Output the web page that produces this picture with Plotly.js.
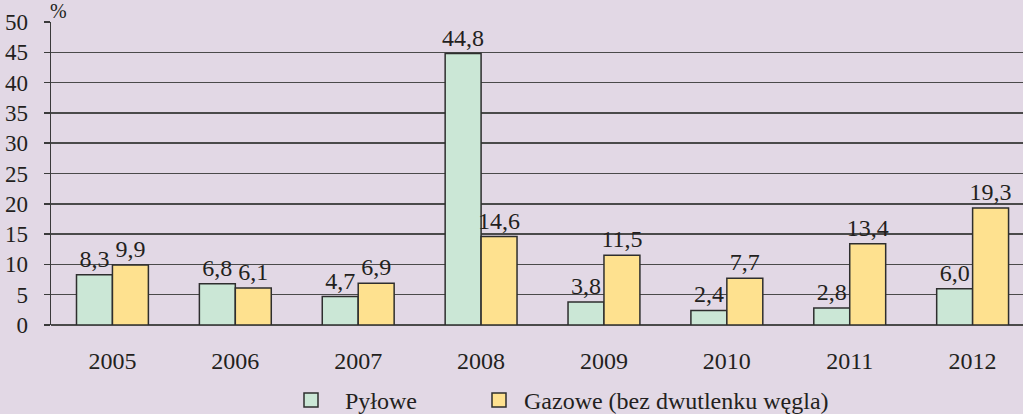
<!DOCTYPE html>
<html><head><meta charset="utf-8">
<script src="https://cdn.plot.ly/plotly-3.0.1.min.js"></script>
<style>html,body{margin:0;padding:0;background:#e2d8e5;}</style>
</head><body>
<div id="chart" style="width:1023px;height:414px;"></div>
<script>
const years = ['2005','2006','2007','2008','2009','2010','2011','2012'];
const pylowe = [8.3, 6.8, 4.7, 44.8, 3.8, 2.4, 2.8, 6.0];
const gazowe = [9.9, 6.1, 6.9, 14.6, 11.5, 7.7, 13.4, 19.3];
const seriesNames = ['Pyłowe', 'Gazowe (bez dwutlenku węgla)'];
const seriesColors = ['#cbe7d6', '#fee18f'];
const yTicks = [0,5,10,15,20,25,30,35,40,45,50];

const fmt = v => v.toFixed(1).replace('.', ',');
const font = 'Liberation Serif';
const ink = '#231f20';
const edge = '#2e2e2e';

// plot-area geometry (pixels) used for the hand-drawn legend
const M = {l: 51, r: 0, t: 22, b: 89};
const W = 1023, H = 414;
const pw = W - M.l - M.r, ph = H - M.t - M.b;
const px2x = p => (p - M.l) / pw;
const px2y = p => (H - M.b - p) / ph;

const common = {
  type: 'bar',
  textposition: 'outside',
  constraintext: 'none',
  cliponaxis: false,
  textfont: {family: font, size: 24, color: ink},
  hoverinfo: 'none',
  showlegend: false
};

const traces = [pylowe, gazowe].map((vals, i) => Object.assign({}, common, {
  x: years, y: vals, name: seriesNames[i], text: vals.map(fmt),
  marker: {color: seriesColors[i], line: {color: edge, width: 1.5}}
}));

const shapes = [];
// category boundary tick marks below the x axis
for (let i = 0; i < years.length; i++) {
  shapes.push({
    type: 'line', xref: 'x', yref: 'y',
    x0: i - 0.5, x1: i - 0.5, y0: 0, y1: -0.9,
    line: {color: '#3a3a3a', width: 1.5}
  });
}
// legend
const legSq = [304, 492], legTx = [343, 522];
const annotations = [
  {xref: 'paper', yref: 'paper', x: 0, y: 1, xanchor: 'left', yanchor: 'bottom',
   xshift: -3, yshift: -2, text: '%', showarrow: false,
   font: {family: font, size: 20, color: ink}}
];
seriesNames.forEach((n, i) => {
  shapes.push({
    type: 'rect', xref: 'paper', yref: 'paper',
    x0: px2x(legSq[i]), x1: px2x(legSq[i] + 14),
    y0: px2y(393), y1: px2y(407),
    fillcolor: seriesColors[i], line: {color: edge, width: 1.5}
  });
  annotations.push({
    xref: 'paper', yref: 'paper', x: px2x(legTx[i]), y: px2y(401),
    xanchor: 'left', yanchor: 'middle', text: n, showarrow: false,
    font: {family: font, size: 24, color: ink}
  });
});

const layout = {
  width: W, height: H,
  margin: M,
  paper_bgcolor: '#e2d8e5',
  plot_bgcolor: '#e2d8e5',
  barmode: 'group',
  bargap: 0.415,
  bargroupgap: 0,
  showlegend: false,
  font: {family: font, size: 24, color: ink},
  xaxis: {
    type: 'category',
    range: [-0.5, 7.41],
    showgrid: false,
    showline: false,
    ticks: '',
    ticklabelstandoff: 19,
    tickfont: {family: font, size: 24, color: ink},
    fixedrange: true
  },
  yaxis: {
    range: [0, 50],
    tickvals: yTicks,
    ticktext: yTicks.map(String),
    showgrid: true,
    gridcolor: '#4a4a4a',
    gridwidth: 1.5,
    zeroline: true,
    zerolinecolor: '#4a4a4a',
    zerolinewidth: 1.5,
    showline: true,
    linecolor: '#3a3a3a',
    linewidth: 1.5,
    ticks: 'outside',
    ticklen: 6,
    tickcolor: '#3a3a3a',
    tickwidth: 1.5,
    ticklabelstandoff: 11,
    tickfont: {family: font, size: 23, color: ink},
    fixedrange: true
  },
  annotations: annotations,
  shapes: shapes
};

Plotly.newPlot('chart', traces, layout, {displayModeBar: false, staticPlot: true});
</script>
</body></html>
